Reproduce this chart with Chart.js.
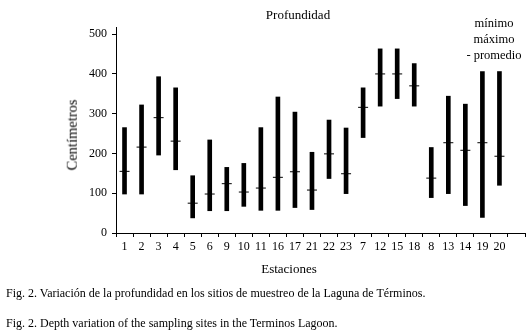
<!DOCTYPE html>
<html lang="es">
<head>
  <meta charset="UTF-8">
  <title>Profundidad</title>
  <script src="https://cdn.jsdelivr.net/npm/chart.js"></script>
  <style>
    body { margin: 0; background: #fff; }
    #wrap { position: relative; width: 531px; height: 335px; font-family: "Liberation Serif", serif; color: #000; }
    #chartBox { position: absolute; left: 0; top: 0; width: 531px; height: 280px; }
    .lbl { position: absolute; white-space: nowrap; line-height: 1; transform: translate(-50%, -50%); }
    .cap { position: absolute; left: 6px; white-space: nowrap; font-size: 12px; line-height: 1; }
  </style>
</head>
<body>
<div id="wrap">
  <div id="chartBox"><canvas id="depthChart" width="531" height="280"></canvas></div>

  <div class="lbl" style="left:298px; top:14px; font-size:13px;">Profundidad</div>
  <div class="lbl" style="left:494px; top:39px; font-size:12.5px; line-height:16px; text-align:center;">mínimo<br>máximo<br>- promedio</div>
  <div class="lbl" style="left:289px; top:268px; font-size:13px;">Estaciones</div>
  <div class="lbl" style="left:72px; top:135px; font-size:14.5px; transform: translate(-50%, -50%) rotate(-90deg);">Centímetros</div>

  <div class="cap" style="top:287px;">Fig. 2. Variación de la profundidad en los sitios de muestreo de la Laguna de Términos.</div>
  <div class="cap" style="top:317px;">Fig. 2. Depth variation of the sampling sites in the Terminos Lagoon.</div>
</div>

<script>
  // stations in the order they appear on the x axis
  const stations = ['1', '2', '3', '4', '5', '6', '9', '10', '11', '16', '17', '21',
                    '22', '23', '7', '12', '15', '18', '8', '13', '14', '19', '20'];

  // depth in cm
  const minimo   = [98, 98, 196, 159, 38, 56, 56, 67, 57, 57, 64, 59,
                    137, 99, 240, 319, 338, 319, 89, 99, 69, 39, 120];
  const maximo   = [265, 322, 393, 365, 144, 234, 165, 175, 265, 342, 304, 203,
                    284, 264, 365, 463, 463, 426, 215, 344, 324, 406, 406];
  const promedio = [155, 216, 290, 231, 75, 98, 124, 103, 113, 140, 154, 108,
                    199, 149, 316, 400, 400, 370, 138, 227, 208, 227, 193];

  const yTicks = [0, 100, 200, 300, 400, 500];

  // the axis runs on a bit past the last station, so add one empty slot
  const labels = [...stations, ''];
  const ranges = minimo.map((lo, i) => [lo, maximo[i]]);

  const serif = { family: "'Liberation Serif', serif", size: 12 };

  const ctx = document.getElementById('depthChart').getContext('2d');
  new Chart(ctx, {
    type: 'bar',
    data: {
      labels: labels,
      datasets: [
        {
          label: 'mínimo - máximo',
          data: ranges,
          backgroundColor: '#000',
          borderWidth: 0,
          barThickness: 4,
          order: 2
        },
        {
          type: 'line',
          label: 'promedio',
          data: promedio,
          showLine: false,
          pointStyle: 'line',
          pointRadius: 5,
          pointBorderWidth: 1,
          borderColor: '#000',
          backgroundColor: '#000',
          order: 1
        }
      ]
    },
    options: {
      responsive: false,
      animation: false,
      events: [],
      layout: { padding: { left: 0, right: 2, top: 27, bottom: 0 } },
      plugins: {
        legend: { display: false },
        tooltip: { enabled: false },
        title: { display: false }
      },
      scales: {
        x: {
          offset: true,
          grid: { offset: true, drawOnChartArea: false, tickLength: 4, color: '#000' },
          border: { color: '#000', width: 1 },
          ticks: { color: '#000', font: serif, padding: 3, maxRotation: 0, autoSkip: false },
          afterFit: (scale) => { scale.height = 47; }
        },
        y: {
          min: 0,
          max: 518,
          grid: { drawOnChartArea: false, tickLength: 4, color: '#000' },
          border: { color: '#000', width: 1 },
          ticks: { color: '#000', font: serif, padding: 5, stepSize: 100, includeBounds: false },
          afterBuildTicks: (scale) => { scale.ticks = yTicks.map(v => ({ value: v })); },
          afterFit: (scale) => { scale.width = 116; }
        }
      }
    }
  });
</script>
</body>
</html>
